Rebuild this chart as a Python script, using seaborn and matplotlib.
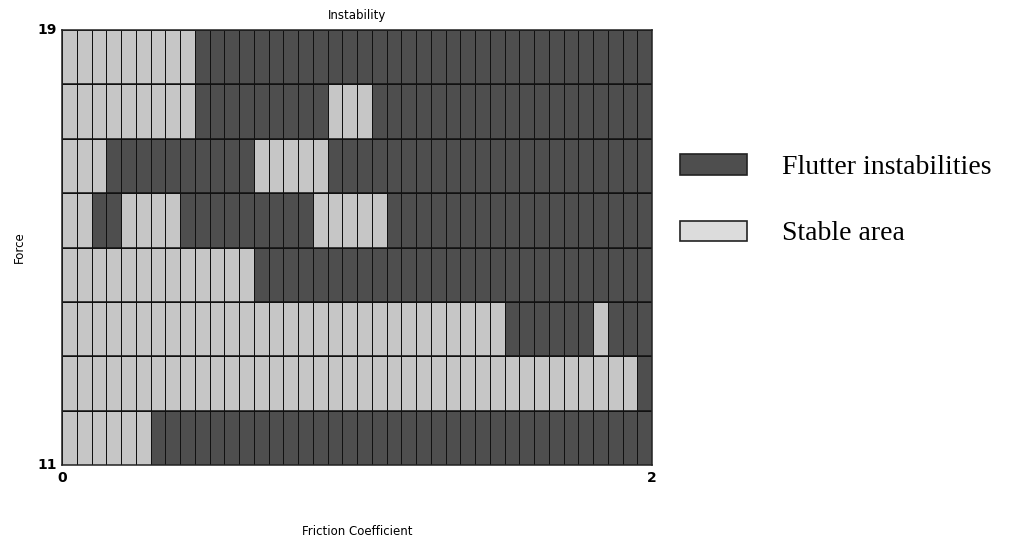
import numpy as np
import pandas as pd
import seaborn as sns
import matplotlib
matplotlib.use("Agg")
import matplotlib.pyplot as plt
from matplotlib.colors import ListedColormap
from matplotlib.patches import Patch

# Stability map: one string per force band (top band first), one character per
# friction-coefficient step. F = flutter instability, S = stable.
force_bands = ["18-19", "17-18", "16-17", "15-16", "14-15", "13-14", "12-13", "11-12"]
states = [
    "SSSSSSSSSFFFFFFFFFFFFFFFFFFFFFFFFFFFFFFF",
    "SSSSSSSSSFFFFFFFFFSSSFFFFFFFFFFFFFFFFFFF",
    "SSSFFFFFFFFFFSSSSSFFFFFFFFFFFFFFFFFFFFFF",
    "SSFFSSSSFFFFFFFFFSSSSSFFFFFFFFFFFFFFFFFF",
    "SSSSSSSSSSSSSFFFFFFFFFFFFFFFFFFFFFFFFFFF",
    "SSSSSSSSSSSSSSSSSSSSSSSSSSSSSSFFFFFFSFFF",
    "SSSSSSSSSSSSSSSSSSSSSSSSSSSSSSSSSSSSSSSF",
    "SSSSSSFFFFFFFFFFFFFFFFFFFFFFFFFFFFFFFFFF",
]
x_tick_labels = ["0", "2"]
y_tick_labels = ["19", "11"]
legend_labels = ["Flutter instabilities", "Stable area"]

stable_color = "#c6c6c6"
flutter_color = "#4e4e4e"

grid = pd.DataFrame([[1 if c == "F" else 0 for c in row] for row in states],
                    index=force_bands)

fig = plt.figure(figsize=(10.17, 5.43), dpi=100)
ax = fig.add_axes([62 / 1017, 78 / 543, 590 / 1017, 435 / 543])

sns.heatmap(grid, ax=ax, cmap=ListedColormap([stable_color, flutter_color]),
            vmin=0, vmax=1, cbar=False, linewidths=0.6, linecolor="#111111")

# heavier band separators
for k in range(1, len(force_bands)):
    ax.axhline(k, color="#111111", lw=1.1)
for side in ax.spines.values():
    side.set_visible(True)
    side.set_color("#222222")
    side.set_linewidth(1.1)

ncols = grid.shape[1]
nrows = grid.shape[0]
ax.set_xticks([0, ncols])
ax.set_xticklabels(x_tick_labels, fontsize=10, fontweight="bold", family="DejaVu Sans",
                   rotation=0)
ax.set_yticks([0, nrows])
ax.set_yticklabels(y_tick_labels, fontsize=10, fontweight="bold", family="DejaVu Sans",
                   rotation=0)
ax.tick_params(axis="both", length=0, pad=4)
ax.set_xlabel("Friction Coefficient", fontsize=8.5, family="DejaVu Sans", labelpad=29)
ax.set_ylabel("Force", fontsize=8.5, family="DejaVu Sans", labelpad=8)
ax.set_title("Instability", fontsize=8.5, family="DejaVu Sans", pad=8)

handles = [Patch(facecolor=flutter_color, edgecolor="#222222", lw=1.2),
           Patch(facecolor="#dcdcdc", edgecolor="#222222", lw=1.2)]
fig.legend(handles, legend_labels, loc="upper left",
           bbox_to_anchor=(661 / 1017, 1 - 135 / 543),
           frameon=False, prop={"family": "Liberation Serif", "size": 20},
           handlelength=2.4, handleheight=0.75, handletextpad=1.25, labelspacing=1.45,
           borderpad=0.2)

fig.savefig("out.png", dpi=100)
